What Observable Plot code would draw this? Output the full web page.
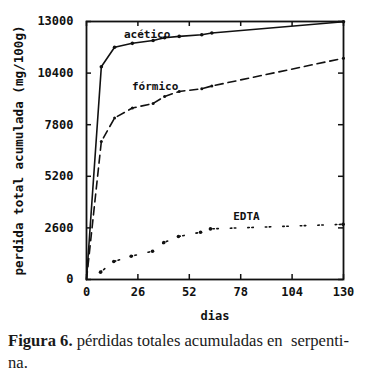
<!DOCTYPE html>
<html>
<head>
<meta charset="utf-8">
<script src="https://cdn.jsdelivr.net/npm/d3@7"></script>
<script src="https://cdn.jsdelivr.net/npm/@observablehq/plot@0.6"></script>
<style>
  html, body { margin: 0; padding: 0; background: #fff; }
  #chart { width: 368px; }
  .caption { font-family: "Liberation Serif", serif; font-size: 16.6px; color: #1a1a1a; margin: 5px 0 0 8px; line-height: 22px; width: 360px; white-space: nowrap; }
</style>
</head>
<body>
<div id="chart"></div>
<div class="caption"><b>Figura 6.</b> pérdidas totales acumuladas en&nbsp; serpenti-<br>na.</div>
<script>
const days = [0, 7.5, 14.2, 23.2, 33.7, 39.5, 46.9, 58.3, 63.4, 130];
const acetico = [0, 10720, 11700, 11900, 12040, 12180, 12250, 12330, 12420, 12990];
const formico = [0, 6950, 8140, 8640, 8870, 9225, 9475, 9610, 9750, 11150];
const daysEdta = [7.1, 13.8, 22.6, 33.4, 39.1, 46.5, 57.7, 62.7, 129.8];
const edta = [370, 905, 1175, 1425, 1860, 2165, 2380, 2550, 2780];
const xTicks = [0, 26, 52, 78, 104, 130];
const yTicks = [0, 2600, 5200, 7800, 10400, 13000];
const seriesNames = ["acético", "fórmico", "EDTA"];

const ac = days.map((d, i) => ({x: d, y: acetico[i]}));
const fo = days.map((d, i) => ({x: d, y: formico[i]}));
const ed = daysEdta.map((d, i) => ({x: d, y: edta[i]}));

const W = 368, H = 325, mL = 86, mR = 25, mT = 21, mB = 46;
const innerW = W - mL - mR, innerH = H - mT - mB, tick = 5;
const ink = "#111";
const chart = Plot.plot({
  width: W,
  height: H,
  marginLeft: mL,
  marginRight: mR,
  marginTop: mT,
  marginBottom: mB,
  style: {fontFamily: "'DejaVu Sans Mono', monospace", fontSize: "12px", fontWeight: "bold", color: ink, background: "#fff"},
  x: {domain: [0, 130]},
  y: {domain: [0, 13000]},
  marks: [
    Plot.axisX(xTicks, {anchor: "bottom", tickSize: 0, tickPadding: 8, label: "dias", labelAnchor: "center", labelOffset: 40, labelArrow: "none", tickFormat: d => String(d)}),
    Plot.axisY(yTicks, {anchor: "left", tickSize: 0, tickPadding: 13, label: null, tickFormat: d => String(d)}),
    Plot.axisY({anchor: "left", ticks: [], tickSize: 0, label: "perdida total acumulada (mg/100g)", labelAnchor: "center", labelOffset: 72, labelArrow: "none", fontSize: 12.6}),
    Plot.tickX(xTicks, {x: d => d, insetTop: innerH - tick, stroke: ink, strokeWidth: 1.5}),
    Plot.tickX(xTicks, {x: d => d, insetBottom: innerH - tick, stroke: ink, strokeWidth: 1.5}),
    Plot.tickY(yTicks, {y: d => d, insetRight: innerW - tick, stroke: ink, strokeWidth: 1.5}),
    Plot.tickY(yTicks, {y: d => d, insetLeft: innerW - tick, stroke: ink, strokeWidth: 1.5}),
    Plot.frame({stroke: ink, strokeWidth: 1.8}),
    Plot.line(ac, {x: "x", y: "y", stroke: ink, strokeWidth: 1.6}),
    Plot.dot(ac.slice(1), {x: "x", y: "y", r: 1.8, fill: ink}),
    Plot.line(fo, {x: "x", y: "y", stroke: ink, strokeWidth: 1.6, strokeDasharray: "8 5"}),
    Plot.dot(fo.slice(1), {x: "x", y: "y", r: 1.5, fill: ink}),
    Plot.line(ed, {x: "x", y: "y", stroke: ink, strokeWidth: 1.6, strokeDasharray: "1.5 2.5 1.5 12"}),
    Plot.dot(ed, {x: "x", y: "y", r: 1.8, fill: ink}),
    Plot.text([ac[4]], {x: "x", y: "y", text: () => seriesNames[0], dx: -6, dy: -6, fill: ink, fontSize: 11}),
    Plot.text([fo[4]], {x: "x", y: "y", text: () => seriesNames[1], dx: 2, dy: -17, fill: ink, fontSize: 11}),
    Plot.text([ed[7]], {x: "x", y: "y", text: () => seriesNames[2], dx: 36, dy: -12, fill: ink, fontSize: 11})
  ]
});
document.getElementById("chart").appendChild(chart);
</script>
</body>
</html>
